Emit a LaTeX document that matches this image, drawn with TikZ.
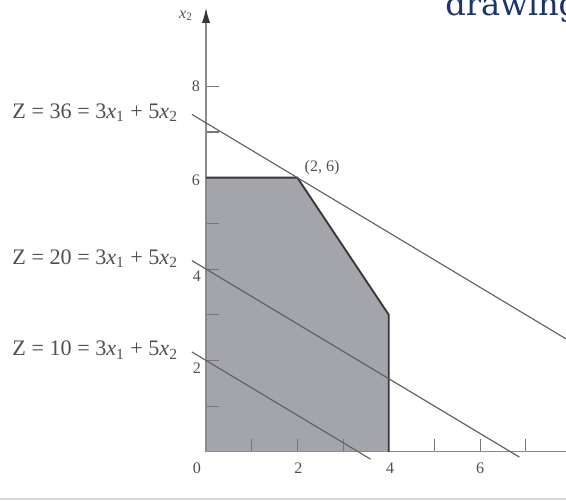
\documentclass[tikz,border=0pt]{standalone}
\usepackage{fontspec}
\setmainfont{Liberation Serif}
\newfontfamily\headfont{DejaVu Serif}
\usetikzlibrary{arrows.meta}

\definecolor{regiongray}{RGB}{164,165,170}
\definecolor{edgegray}{RGB}{55,55,58}
\definecolor{linegray}{RGB}{95,95,98}
\definecolor{axisgray}{RGB}{140,140,142}
\definecolor{textgray}{RGB}{80,80,82}
\definecolor{headblue}{RGB}{28,52,108}

\newcommand{\zeqn}[1]{Z = #1 = 3\textit{x}\textsubscript{1} + 5\textit{x}\textsubscript{2}}

\tikzset{
  axis/.style={draw=axisgray, line width=0.8pt},
  tickmark/.style={draw=axisgray!85!black, line width=0.7pt},
  region/.style={fill=regiongray},
  boundary/.style={draw=edgegray, line width=1.2pt},
  objline/.style={draw=linegray, line width=0.7pt},
  num/.style={text=textgray, font=\fontsize{10}{12}\selectfont, inner sep=0pt},
  zlab/.style={text=textgray, font=\fontsize{13.8}{16}\selectfont, inner sep=0pt, anchor=east}
}

\begin{document}
\begin{tikzpicture}
  \useasboundingbox (-4.51,-1.07) rectangle (7.88,9.89);

  % Feasible region
  \coordinate (O) at (0,0);
  \coordinate (A) at (0,6);
  \coordinate (P) at (2,6);
  \coordinate (B) at (4,3);
  \coordinate (C) at (4,0);
  \fill[region] (O) -- (A) -- (P) -- (B) -- (C) -- cycle;

  % Ticks
  \foreach \y in {1,...,8}
    \draw[tickmark] (0,\y) -- (0.28,\y);
  \foreach \x in {1,...,8}
    \draw[tickmark] (\x,0) -- (\x,0.28);

  % Axes
  \coordinate (ytip) at (0,9.72);
  \coordinate (xend) at (8.4,0);
  \draw[axis, -{Latex[length=0.33cm, width=0.18cm, color=edgegray]}] (O) -- (ytip);
  \draw[axis] (O) -- (xend);
  \node[num, font=\fontsize{10}{12}\selectfont\itshape] (ylab) at (-0.44,9.54)
    {x\textsubscript{\upshape 2}};

  % Axis numbers
  \foreach \v/\px/\py in {8/-0.22/8.0, 6/-0.22/5.95, 4/-0.2/3.84, 2/-0.2/1.84}
    \node[num] (ynum\v) at (\px,\py) {\v};
  \foreach \v/\px in {0/-0.2, 2/2.02, 4/4.03, 6/6.0, 8/8.0}
    \node[num] (xnum\v) at (\px,-0.36) {\v};

  % Boundary
  \draw[boundary] (A) -- (P) -- (B) -- (C);
  \node[num] (plab) at (2.54,6.22) {(2, 6)};

  % Objective lines
  \foreach \z/\xe in {36/8.3, 20/6.86, 10/3.6} {
    \draw[objline] (-0.31,{(\z+0.93)/5}) coordinate (s\z)
      -- (\xe,{(\z-3*\xe)/5}) coordinate (e\z);
    \node[zlab] (zlab\z) at ([xshift=-0.30cm, yshift=0.04cm]s\z) {\zeqn{\z}};
  }

  % Page edge
  \draw[gray!30, line width=0.9pt] (-4.51,-1.03) -- (7.88,-1.03);
  \node[text=headblue, font=\headfont\fontsize{20}{24}\selectfont,
    inner sep=0pt, anchor=base west] (head) at (5.23,9.56) {drawing};
\end{tikzpicture}
\end{document}
